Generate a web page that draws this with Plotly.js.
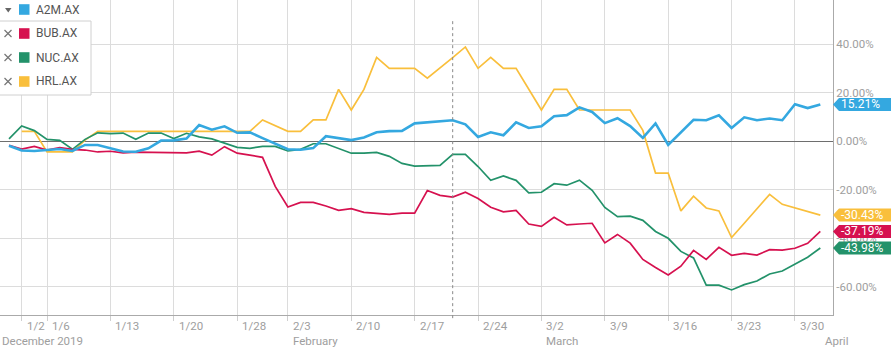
<!DOCTYPE html>
<html><head><meta charset="utf-8">
<script src="https://cdn.plot.ly/plotly-3.0.1.min.js"></script>
<style>html,body{margin:0;padding:0;background:#fff;}</style>
</head><body><div id="chart" style="width:892px;height:353px;"></div>
<script>
// Trading days (ASX), 31 Dec 2019 – 1 Apr 2020
const dates = ['2019-12-31','2020-01-02','2020-01-03','2020-01-06','2020-01-07','2020-01-08','2020-01-09','2020-01-10',
'2020-01-13','2020-01-14','2020-01-15','2020-01-16','2020-01-17','2020-01-20','2020-01-21','2020-01-22','2020-01-23','2020-01-24',
'2020-01-28','2020-01-29','2020-01-30','2020-01-31','2020-02-03','2020-02-04','2020-02-05','2020-02-06','2020-02-07',
'2020-02-10','2020-02-11','2020-02-12','2020-02-13','2020-02-14','2020-02-17','2020-02-18','2020-02-19','2020-02-20','2020-02-21',
'2020-02-24','2020-02-25','2020-02-26','2020-02-27','2020-02-28','2020-03-02','2020-03-03','2020-03-04','2020-03-05','2020-03-06',
'2020-03-09','2020-03-10','2020-03-11','2020-03-12','2020-03-13','2020-03-16','2020-03-17','2020-03-18','2020-03-19','2020-03-20',
'2020-03-23','2020-03-24','2020-03-25','2020-03-26','2020-03-27','2020-03-30','2020-03-31','2020-04-01'];

const a2m = [-1.8,-3.8,-4.0,-3.7,-3.2,-4.0,-1.5,-1.5,-2.9,-4.2,-4.3,-2.9,0.3,0.4,1.1,6.7,4.8,6.2,3.5,3.7,1.3,-0.9,
-3.3,-3.5,-2.8,2.1,1.2,0.5,1.6,3.7,4.2,4.3,7.4,7.8,8.0,8.7,7.0,1.8,3.7,2.5,7.8,5.5,6.2,10.3,10.8,14.0,12.1,7.5,
9.5,6.3,1.4,7.4,-1.5,3.6,8.9,8.7,10.7,5.5,9.9,8.7,9.4,8.7,15.3,13.7,15.21];

const bub = [-1.7,-3.2,-2.1,-3.6,-2.6,-3.3,-3.6,-4.4,-4.1,-4.8,-4.5,-4.5,-4.8,-4.8,-4.8,-4.1,-5.7,-2.2,-4.9,-5.7,-6.6,-18.6,
-27.1,-25.2,-25.2,-26.7,-28.5,-27.8,-29.3,-29.7,-30.1,-29.6,-29.6,-20.3,-22.3,-23.0,-21.0,-23.6,-27.2,-29.1,-28.5,-34.1,
-35.1,-31.3,-34.5,-34.1,-33.8,-41.9,-38.4,-42.0,-48.7,-52.0,-55.1,-51.5,-45.0,-48.7,-43.7,-47.0,-46.2,-46.9,-44.7,-44.9,
-44.1,-42.1,-37.19];

const nuc = [1.0,6.3,4.4,0.8,0.4,-3.3,0.8,3.5,3.2,3.4,0.8,3.4,3.4,1.1,3.3,1.8,1.0,-0.8,-2.5,-2.9,-2.1,-2.1,
-4.0,-3.3,-1.0,-1.0,-2.9,-4.9,-4.9,-4.6,-6.2,-9.1,-10.2,-10.2,-9.9,-5.4,-5.4,-10.4,-16.1,-14.3,-16.1,-21.3,-21.0,-17.5,
-18.1,-16.0,-20.2,-27.3,-31.1,-30.9,-32.6,-37.2,-40.0,-45.4,-48.1,-59.3,-59.3,-61.3,-59.1,-57.6,-54.7,-53.5,-50.6,-47.8,-43.98];

const hrl = [null,4.1,4.1,-4.4,-4.4,-4.4,0.5,4.1,4.1,4.1,4.1,4.1,4.1,4.1,4.1,4.1,4.1,4.1,4.1,4.1,8.8,6.5,
4.1,4.1,8.8,8.8,21.4,12.9,21.4,34.6,30.1,30.1,30.1,26.0,30.1,34.5,38.9,30.1,34.6,30.1,30.1,21.4,12.9,21.4,21.4,
12.9,12.9,12.9,12.9,12.9,4.5,-13.1,-13.1,-28.7,-22.6,-27.5,-28.7,-39.7,-33.8,-27.9,-21.9,-26.0,-27.4,-28.9,-30.43];

const seriesNames = ['A2M.AX','BUB.AX','NUC.AX','HRL.AX'];
const seriesColors = ['#34a8e0','#d6114f','#23926a','#f9bf3c'];
const seriesValues = [a2m, bub, nuc, hrl];

const tickDates  = ['2020-01-02','2020-01-06','2020-01-13','2020-01-20','2020-01-28','2020-02-03','2020-02-10',
'2020-02-17','2020-02-24','2020-03-02','2020-03-09','2020-03-16','2020-03-23','2020-03-30'];
const tickLabels = ['1/2','1/6','1/13','1/20','1/28','2/3','2/10','2/17','2/24','3/2','3/9','3/16','3/23','3/30'];
const monthDates  = ['2020-02-03','2020-03-02','2020-04-01'];
const monthLabels = ['February','March','April'];
const firstMonthLabel = 'December 2019';
const yTickVals = [-60,-40,-20,0,20,40];
const yTickText = ['-60.00%','-40.00%','-20.00%','0.00%','20.00%','40.00%'];
const crosshairDate = '2020-02-20';

// ---- layout geometry ----
const W = 833, H = 315;
const xRange = [-0.71, 65.0];
const yRange = [-71.63, 58.27];
const px = x => x / W;
const py = y => 1 - y / H;
const yp = v => (v - yRange[0]) / (yRange[1] - yRange[0]);
const idx = d => dates.indexOf(d);
const FONT = 'Roboto, "Open Sans", Arial, sans-serif';
const GREY = '#9e9e9e';

const drawOrder = [3, 2, 1, 0];
const traces = drawOrder.map(k => ({
  type: 'scatter', mode: 'lines', x: dates, y: seriesValues[k], name: seriesNames[k],
  line: {color: seriesColors[k], width: k === 0 ? 2.6 : 1.7},
  connectgaps: false, hoverinfo: 'skip'
}));

const shapes = [];
const annotations = [];

// crosshair
shapes.push({type:'line', xref:'x', yref:'paper', x0: idx(crosshairDate), x1: idx(crosshairDate),
  y0: -0.01, y1: py(20), line:{color:'#888', width:1, dash:'dot'}, layer:'above'});

// x tick labels
tickDates.forEach((d, i) => annotations.push({xref:'x', yref:'paper', x: idx(d), y: 0, xanchor:'left', yanchor:'middle',
  xshift: 3, yshift: -11, text: tickLabels[i], showarrow:false, font:{family:FONT, size:11.5, color:GREY}}));
monthDates.forEach((d, i) => annotations.push({xref:'x', yref:'paper', x: idx(d), y: 0, xanchor:'left', yanchor:'middle',
  xshift: 3, yshift: -26, text: monthLabels[i], showarrow:false, font:{family:FONT, size:11.5, color:GREY}}));
annotations.push({xref:'paper', yref:'paper', x: 0, y: 0, xanchor:'left', yanchor:'middle',
  xshift: 0, yshift: -26, text: firstMonthLabel, showarrow:false, font:{family:FONT, size:11.5, color:GREY}});

// last-value tags
seriesValues.forEach((vals, k) => {
  const v = vals[vals.length - 1];
  shapes.push({type:'path', xref:'paper', yref:'paper', xsizemode:'pixel', ysizemode:'pixel',
    xanchor: 1, yanchor: yp(v), path:'M0,0 L6,6.5 L58,6.5 L58,-6.5 L6,-6.5 Z',
    fillcolor: seriesColors[k], line:{width:0}, layer:'above'});
  annotations.push({xref:'paper', yref:'paper', x: 1, y: yp(v), xanchor:'left', yanchor:'middle', xshift: 6,
    text: v.toFixed(2) + '%', showarrow:false, font:{family:FONT, size:12, color:'#ffffff'}});
});

// legend panel
shapes.push({type:'rect', xref:'paper', yref:'paper', x0: px(-1), x1: px(91), y0: py(21), y1: py(-1),
  fillcolor:'#ffffff', line:{width:0}, layer:'above'});
shapes.push({type:'rect', xref:'paper', yref:'paper', x0: px(-1), x1: px(91), y0: py(95), y1: py(21),
  fillcolor:'#ffffff', line:{color:'#d0d0d0', width:1}, layer:'above'});
// dropdown triangle
shapes.push({type:'path', xref:'paper', yref:'paper',
  path: `M${px(5)},${py(8)} L${px(11.5)},${py(8)} L${px(8.25)},${py(12.5)} Z`,
  fillcolor:'#666', line:{width:0}, layer:'above'});
const rowY = [9.5, 33.5, 57.5, 81.5];
seriesNames.forEach((n, k) => {
  const cy = rowY[k];
  shapes.push({type:'rect', xref:'paper', yref:'paper', x0: px(19), x1: px(29.5), y0: py(cy + 5.3), y1: py(cy - 5.3),
    fillcolor: seriesColors[k], line:{width:0}, layer:'above'});
  if (k > 0) {
    shapes.push({type:'line', xref:'paper', yref:'paper', x0: px(4.5), x1: px(11.5), y0: py(cy - 3.5), y1: py(cy + 3.5),
      line:{color:'#777', width:1.2}, layer:'above'});
    shapes.push({type:'line', xref:'paper', yref:'paper', x0: px(4.5), x1: px(11.5), y0: py(cy + 3.5), y1: py(cy - 3.5),
      line:{color:'#777', width:1.2}, layer:'above'});
  }
  annotations.push({xref:'paper', yref:'paper', x: px(34), y: py(cy), xanchor:'left', yanchor:'middle',
    text: n, showarrow:false, font:{family:FONT, size:12, color:'#555'}});
});

const layout = {
  width: 892, height: 353,
  margin: {l: 0, r: 59, t: 0, b: 38, pad: 0},
  paper_bgcolor: '#fff', plot_bgcolor: '#fff',
  showlegend: false,
  font: {family: FONT, size: 11.5, color: GREY},
  xaxis: {type:'category', range: xRange, tickmode:'array', tickvals: tickDates, showticklabels:false,
    ticks:'outside', ticklen:5, tickcolor:'#cfcfcf', showgrid:true, gridcolor:'#dcdcdc', gridwidth:1,
    showline:true, linecolor:'#aaaaaa', linewidth:1, zeroline:false, fixedrange:true},
  yaxis: {side:'right', range: yRange, tickmode:'array', tickvals: yTickVals, ticktext: yTickText,
    ticks:'', showgrid:true, gridcolor:'#dcdcdc', gridwidth:1, zeroline:true, zerolinecolor:'#6e6e6e', zerolinewidth:1.5,
    showline:true, linecolor:'#aaaaaa', linewidth:1, tickfont:{family:FONT, size:11.5, color:GREY}, fixedrange:true},
  shapes, annotations
};

Plotly.newPlot('chart', traces, layout, {displayModeBar:false, staticPlot:true});
</script></body></html>
